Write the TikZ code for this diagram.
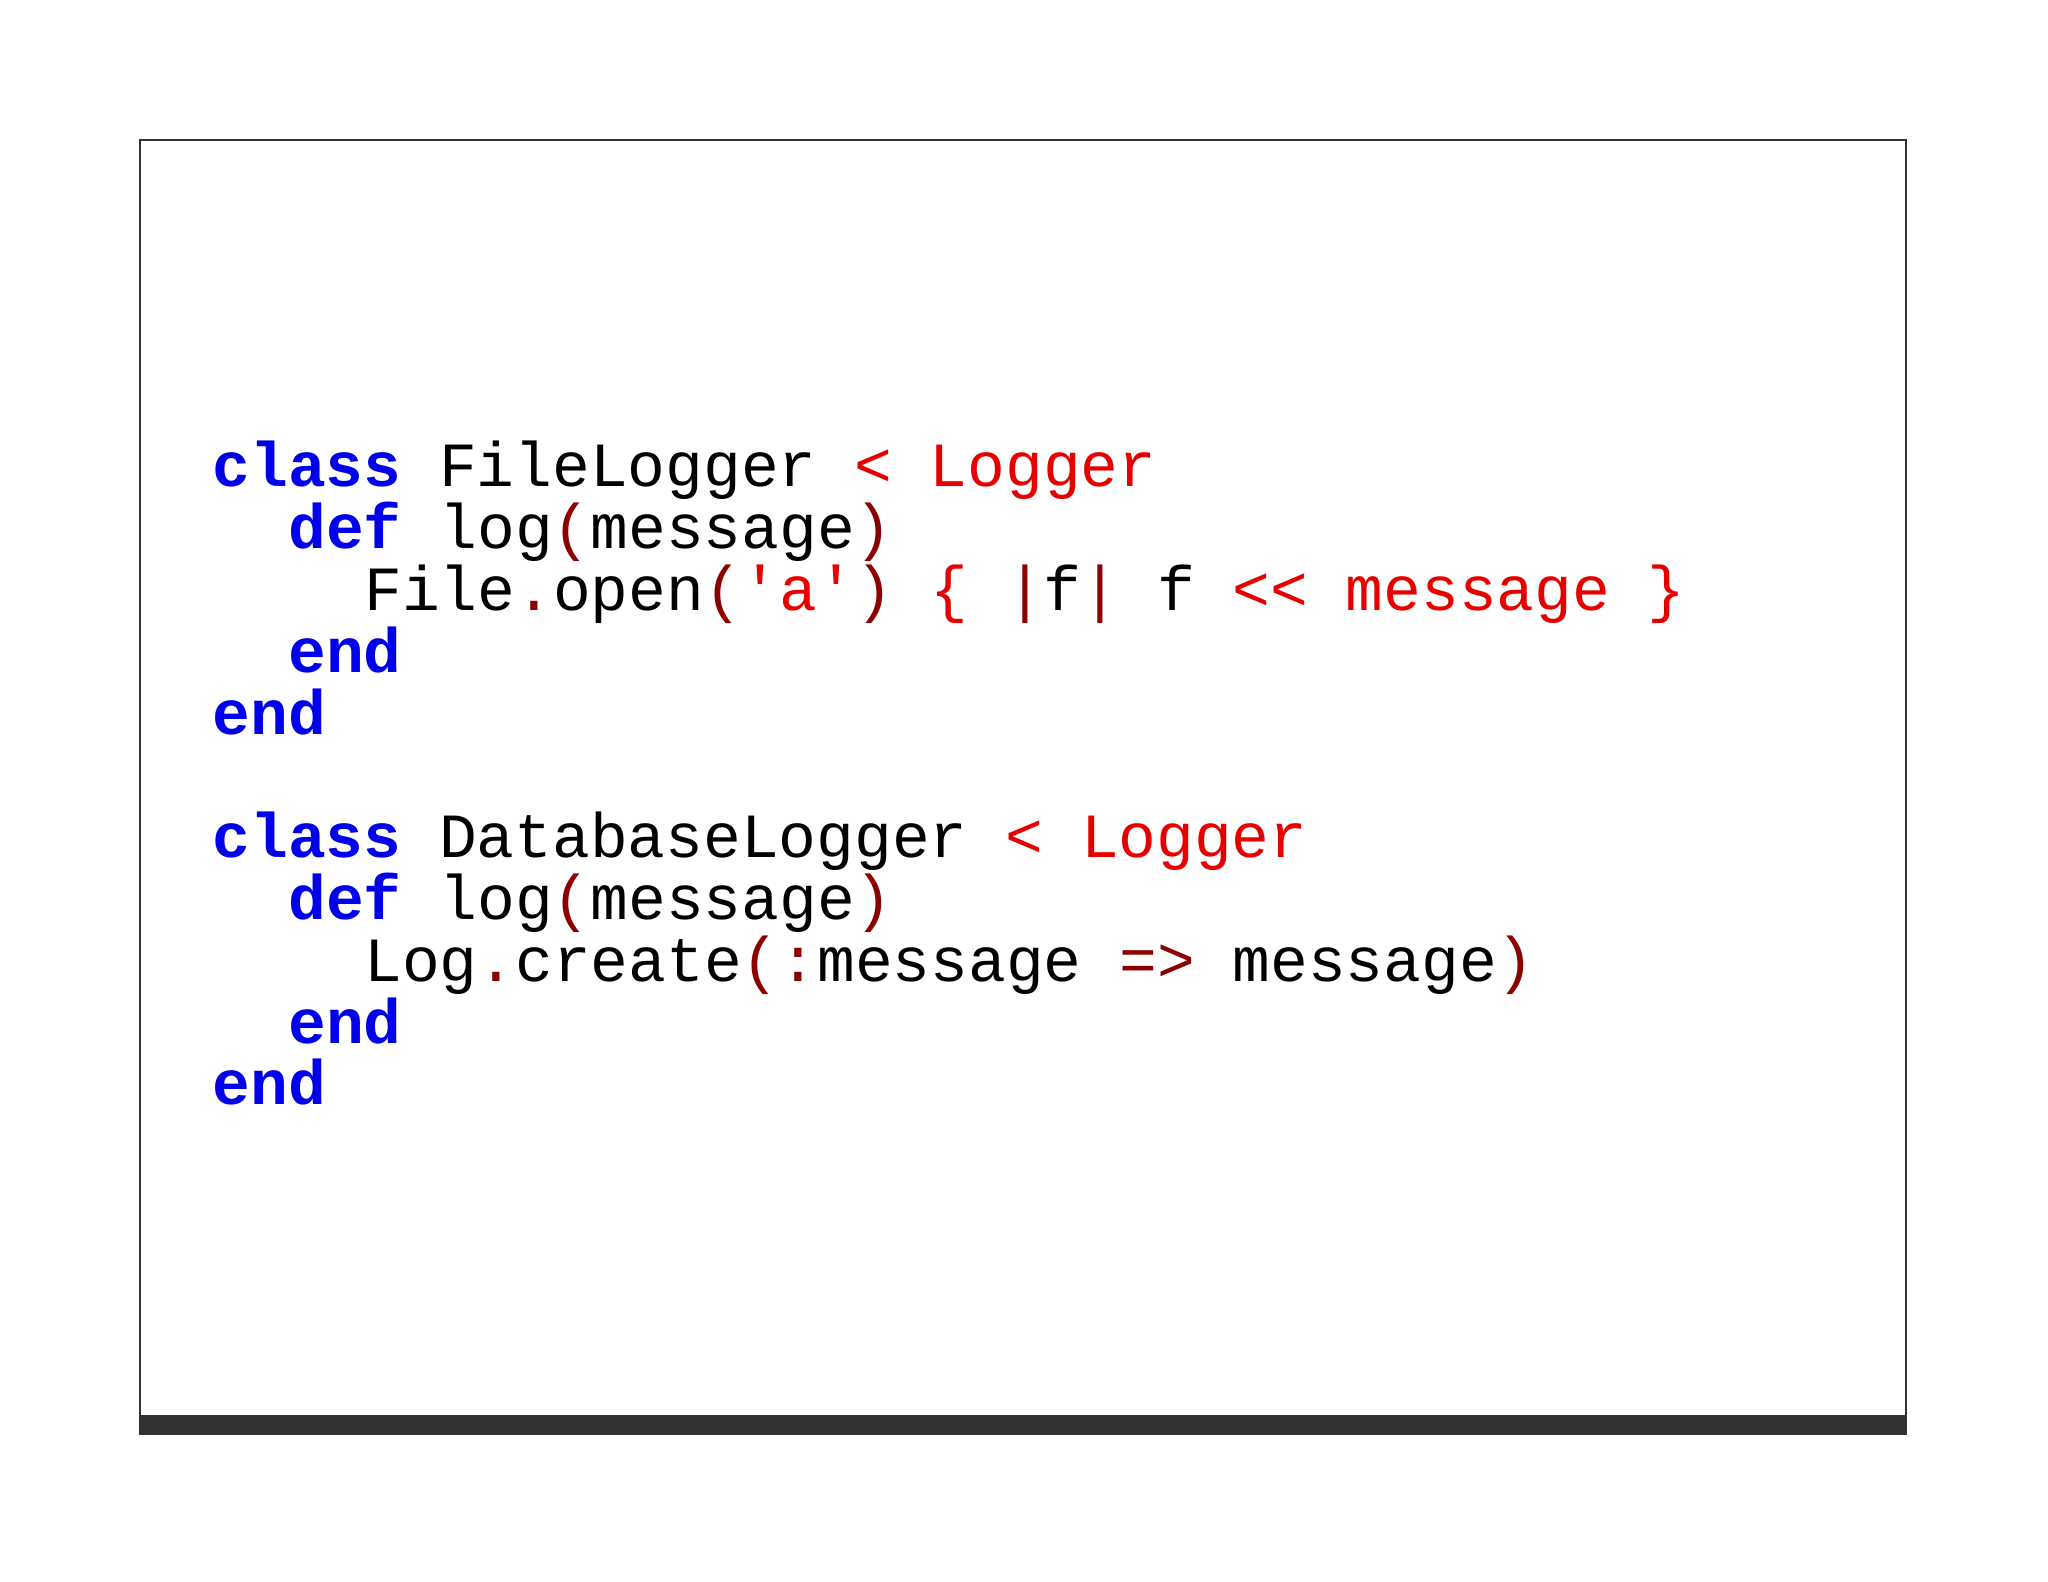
\documentclass[tikz,border=0pt]{standalone}
\usepackage{fontspec}
\setmonofont{Liberation Mono}
\definecolor{kw}{RGB}{0,0,235}
\definecolor{rd}{RGB}{230,0,0}
\definecolor{dr}{RGB}{140,0,0}
\definecolor{bar}{RGB}{50,50,52}
\newcommand{\K}[1]{\textcolor{kw}{\bfseries #1}}
\newcommand{\R}[1]{\textcolor{rd}{#1}}
\newcommand{\D}[1]{\textcolor{dr}{#1}}
\begin{document}
\begin{tikzpicture}[x=1cm,y=1cm,
  code/.style={anchor=base west,inner sep=0pt,font=\ttfamily\fontsize{17.9pt}{20pt}\selectfont}]
\useasboundingbox (0,0) rectangle (20.48,15.82);
\fill[white] (0,0) rectangle (20.48,15.82);
\draw[line width=0.8pt,draw=black!80] (1.40,1.48) rectangle (19.06,14.42);
\fill[bar] (1.40,1.48) rectangle (19.06,1.67);
\def\ch{0.379}
\newcommand{\Lx}[1]{2.12+#1*\ch}
\newcommand{\Ly}[1]{15.82-4.87-#1*0.618}
\node[code] (l1) at ({\Lx{0}},{\Ly{0}}) {\K{class} FileLogger \R{< Logger}};
\node[code] (l2) at ({\Lx{2}},{\Ly{1}}) {\K{def} log\D{(}message\D{)}};
\node[code] (l3) at ({\Lx{4}},{\Ly{2}}) {File\D{.}open\D{(}\R{'a'}\D{)} \R{\{} \D{\textbar}f\D{\textbar} f \R{<< message \}}};
\node[code] (l4) at ({\Lx{2}},{\Ly{3}}) {\K{end}};
\node[code] (l5) at ({\Lx{0}},{\Ly{4}}) {\K{end}};
\node[code] (l7) at ({\Lx{0}},{\Ly{6}}) {\K{class} DatabaseLogger \R{< Logger}};
\node[code] (l8) at ({\Lx{2}},{\Ly{7}}) {\K{def} log\D{(}message\D{)}};
\node[code] (l9) at ({\Lx{4}},{\Ly{8}}) {Log\D{.}create\D{(:}message \D{=>} message\D{)}};
\node[code] (l10) at ({\Lx{2}},{\Ly{9}}) {\K{end}};
\node[code] (l11) at ({\Lx{0}},{\Ly{10}}) {\K{end}};
\end{tikzpicture}
\end{document}
